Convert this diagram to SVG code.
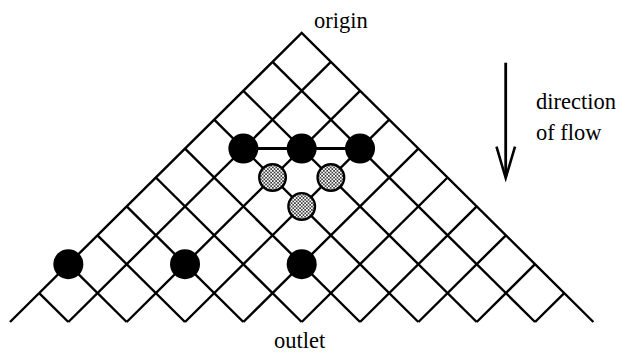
<svg xmlns="http://www.w3.org/2000/svg" width="619" height="352" viewBox="0 0 619 352">
<style>
.lat{stroke:#000;stroke-width:2.4;fill:none;stroke-linecap:butt;stroke-linejoin:miter}
.blk{fill:#000}
.hat{fill:url(#dots);stroke:#000;stroke-width:2.4}
</style>
<defs>
<pattern id="dots" patternUnits="userSpaceOnUse" width="3.4" height="3.4">
<rect width="3.4" height="3.4" fill="#fff"/>
<circle cx="0.85" cy="0.85" r="0.85" fill="#000"/>
<circle cx="2.55" cy="2.55" r="0.85" fill="#000"/>
</pattern>
</defs>
<g id="connectors">
<polyline class="lat" points="10,322 301.7,33 593.4,322"/>
<g id="down-right">
<line class="lat" x1="272.53" y1="61.9" x2="535.06" y2="322"/>
<line class="lat" x1="243.36" y1="90.8" x2="476.72" y2="322"/>
<line class="lat" x1="214.19" y1="119.7" x2="418.38" y2="322"/>
<line class="lat" x1="185.02" y1="148.6" x2="360.04" y2="322"/>
<line class="lat" x1="155.85" y1="177.5" x2="301.7" y2="322"/>
<line class="lat" x1="126.68" y1="206.4" x2="243.36" y2="322"/>
<line class="lat" x1="97.51" y1="235.3" x2="185.02" y2="322"/>
<line class="lat" x1="68.34" y1="264.2" x2="126.68" y2="322"/>
<line class="lat" x1="39.17" y1="293.1" x2="68.34" y2="322"/>
</g>
<g id="down-left">
<line class="lat" x1="330.87" y1="61.9" x2="68.34" y2="322"/>
<line class="lat" x1="360.04" y1="90.8" x2="126.68" y2="322"/>
<line class="lat" x1="389.21" y1="119.7" x2="185.02" y2="322"/>
<line class="lat" x1="418.38" y1="148.6" x2="243.36" y2="322"/>
<line class="lat" x1="447.55" y1="177.5" x2="301.7" y2="322"/>
<line class="lat" x1="476.72" y1="206.4" x2="360.04" y2="322"/>
<line class="lat" x1="505.89" y1="235.3" x2="418.38" y2="322"/>
<line class="lat" x1="535.06" y1="264.2" x2="476.72" y2="322"/>
<line class="lat" x1="564.23" y1="293.1" x2="535.06" y2="322"/>
</g>
<line id="link" x1="243.36" y1="148.6" x2="360.04" y2="148.6" stroke="#000" stroke-width="3"/>
<g id="flow-arrow">
<line x1="505.7" y1="62.7" x2="505.7" y2="176" stroke="#000" stroke-width="2.8"/>
<polyline points="496.5,146.7 505.7,178 515,146.7" fill="none" stroke="#000" stroke-width="2.6" stroke-linejoin="miter"/>
</g>
</g>
<g id="node-b1"><circle class="blk" cx="243.36" cy="148.6" r="15"/></g>
<g id="node-b2"><circle class="blk" cx="301.7" cy="148.6" r="15"/></g>
<g id="node-b3"><circle class="blk" cx="360.04" cy="148.6" r="15"/></g>
<g id="node-h1"><circle class="hat" cx="272.53" cy="177.5" r="13.3"/></g>
<g id="node-h2"><circle class="hat" cx="330.87" cy="177.5" r="13.3"/></g>
<g id="node-h3"><circle class="hat" cx="301.7" cy="206.4" r="13.3"/></g>
<g id="node-b4"><circle class="blk" cx="68.34" cy="264.2" r="15"/></g>
<g id="node-b5"><circle class="blk" cx="185.02" cy="264.2" r="15"/></g>
<g id="node-b6"><circle class="blk" cx="301.7" cy="264.2" r="15"/></g>
<g id="labels" font-family="Liberation Serif, DejaVu Serif, serif" font-size="22.5" fill="#000">
<text x="314" y="28">origin</text>
<text x="274" y="348">outlet</text>
<text x="536" y="109">direction</text>
<text x="536" y="140">of flow</text>
</g>
</svg>
